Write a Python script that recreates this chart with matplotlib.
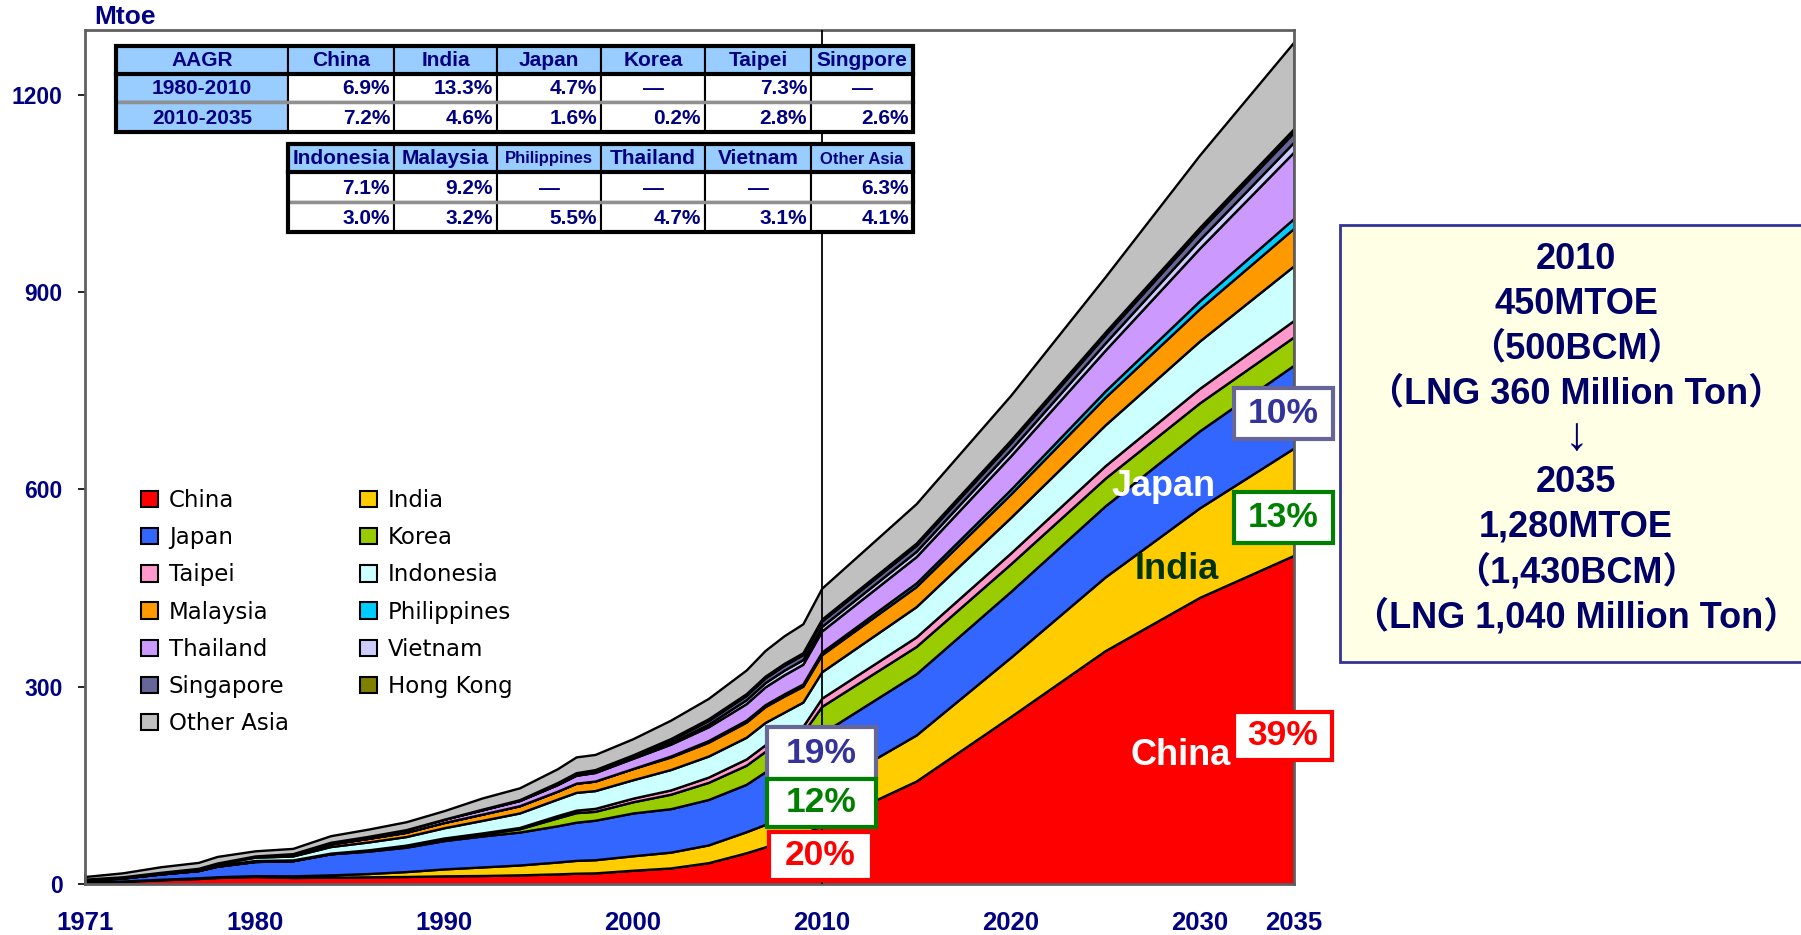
import matplotlib.pyplot as plt
import matplotlib.transforms as mtransforms
from matplotlib.patches import Rectangle

plt.rcParams['font.family'] = ['Liberation Sans', 'DejaVu Sans']

W, H = 1801, 935
NAVY = '#000080'

# Natural gas demand in Asia (Mtoe)
years = [1971, 1973, 1975, 1977, 1978, 1980, 1982, 1984, 1986, 1988, 1990, 1992, 1994,
         1996, 1997, 1998, 2000, 2002, 2004, 2006, 2007, 2008, 2009, 2010,
         2015, 2020, 2025, 2030, 2035]

china = [3, 4.5, 7, 9, 10.5, 12, 10.5, 11, 11.5, 12, 13, 13.5, 14.5,
         16, 17, 17.5, 21.5, 25, 33, 48, 57, 66, 76, 90,
         157, 255, 355, 436, 500]
india = [0.5, 0.6, 0.8, 1, 1.1, 1.3, 2.5, 3.5, 5, 7.5, 10.5, 13, 15,
         18, 19.5, 20, 22, 24, 27, 32, 34, 36, 45, 54,
         70, 90, 112, 136, 163]
japan = [3, 4.5, 8, 11, 16, 21.5, 23, 32, 34, 37, 43, 47, 50,
         55, 58, 60, 65, 66, 69, 72, 80, 82, 78, 85.5,
         93, 100, 108, 117, 126]
korea = [0, 0, 0, 0, 0, 0, 0, 0, 1, 2, 2.5, 3, 5,
         12, 14.5, 13.5, 17, 22, 26, 29, 31, 32, 31, 41,
         41.5, 42, 42, 42.5, 43]
taipei = [1, 1.2, 1.3, 1.4, 1.4, 1.5, 1.2, 1, 1, 1.2, 1.5, 1.6, 2,
          3.5, 3.8, 4.5, 5.5, 6.5, 8, 9.5, 10, 10.5, 10, 12.5,
          14.5, 16.5, 19, 22, 25]
indonesia = [0.5, 0.7, 1, 1.5, 2.5, 5, 6, 10, 12, 13, 15.5, 19, 22,
             25, 27, 27, 28, 31, 32, 33, 34, 35, 37, 40,
             46, 54, 62, 72, 83]
malaysia = [0, 0.1, 0.2, 0.5, 1, 1.9, 2.5, 4, 5.5, 6.5, 8, 9.5, 11,
            12, 14, 14.5, 17, 19, 21, 23, 24, 24.5, 24, 26,
            30.5, 35.5, 42, 49, 57]
philippines = [0, 0, 0, 0, 0, 0, 0, 0, 0, 0, 0, 0, 0,
               0, 0, 0, 0, 1.5, 2.5, 3, 3, 3.3, 3.5, 4,
               5.5, 7, 9.5, 12, 15]
thailand = [0, 0, 0, 0, 0, 0, 1, 2.5, 3, 4, 5, 6.5, 8,
            10, 12, 13, 15.5, 18, 21, 25, 27, 29, 30, 32,
            40, 51, 62, 80, 101]
vietnam = [0, 0, 0, 0, 0, 0, 0, 0, 0, 0, 0, 0, 0,
           0.3, 0.5, 0.7, 1.2, 2, 4, 6, 6.5, 7, 7, 7,
           8, 9.5, 11, 13, 15]
singapore = [0, 0, 0, 0, 0, 0, 0, 0, 0, 0, 0, 1, 1.2,
             1.3, 1.4, 1.5, 1.6, 4, 5.5, 6.5, 7, 7.5, 7.5, 8,
             9, 10.5, 12, 13.5, 15]
hong_kong = [0, 0, 0, 0, 0, 0, 0, 0, 0, 0, 0, 0, 0,
             1.5, 2, 2.2, 2.5, 2.5, 2.6, 2.7, 2.8, 2.8, 2.9, 3,
             3.5, 4, 4.5, 5, 5.5]
other_asia = [4, 6, 8.5, 9, 10, 7.8, 8, 10, 11, 12, 13, 17, 18,
              21, 24, 23, 24.5, 28, 31, 36, 39, 42, 44, 47,
              60, 68, 84, 110, 131.5]

series = [china, india, japan, korea, taipei, indonesia, malaysia, philippines,
          thailand, vietnam, singapore, hong_kong, other_asia]
names = ['China', 'India', 'Japan', 'Korea', 'Taipei', 'Indonesia', 'Malaysia',
         'Philippines', 'Thailand', 'Vietnam', 'Singapore', 'Hong Kong', 'Other Asia']
colors = ['#FF0000', '#FFCC00', '#3366FF', '#99CC00', '#FF99CC', '#CCFFFF', '#FF9900',
          '#00CCFF', '#CC99FF', '#CCCCFF', '#666699', '#808000', '#C0C0C0']

# growth-rate tables
tbl1_header = ['AAGR', 'China', 'India', 'Japan', 'Korea', 'Taipei', 'Singpore']
tbl1_rows = [['1980-2010', '6.9%', '13.3%', '4.7%', '—', '7.3%', '—'],
             ['2010-2035', '7.2%', '4.6%', '1.6%', '0.2%', '2.8%', '2.6%']]
tbl2_header = ['Indonesia', 'Malaysia', 'Philippines', 'Thailand', 'Vietnam', 'Other Asia']
tbl2_rows = [['7.1%', '9.2%', '—', '—', '—', '6.3%'],
             ['3.0%', '3.2%', '5.5%', '4.7%', '3.1%', '4.1%']]

summary_lines = ['2010', '450MTOE', '（500BCM）', '（LNG 360 Million Ton）', '↓',
                 '2035', '1,280MTOE', '（1,430BCM）', '（LNG 1,040 Million Ton）']

fig = plt.figure(figsize=(W / 100, H / 100), dpi=100)
ax = fig.add_axes([85 / W, 1 - 884.4 / H, (1294 - 85) / W, (884.4 - 30) / H])
pix = mtransforms.Affine2D().scale(1 / W, -1 / H).translate(0, 1) + fig.transFigure

ax.stackplot(years, *series, colors=colors, edgecolor='black', linewidth=1.7, zorder=2)
ax.axvline(2010, color='black', lw=1.3, zorder=3)

ax.set_xlim(1971, 2035)
ax.set_ylim(0, 1298)
ax.set_xticks([1971, 1980, 1990, 2000, 2010, 2020, 2030, 2035])
ax.set_xticks(range(1971, 2036), minor=True)
ax.set_yticks([0, 300, 600, 900, 1200])
ax.tick_params(axis='x', which='both', direction='in', length=7, width=1.2,
               pad=19, labelsize=18.5, labelcolor=NAVY)
ax.tick_params(axis='y', direction='out', length=5, width=1.2, pad=11,
               labelsize=16.5, labelcolor=NAVY)
for lbl in ax.get_xticklabels() + ax.get_yticklabels():
    lbl.set_fontweight('bold')
for sp in ax.spines.values():
    sp.set_color('#606060')
    sp.set_linewidth(2)

fig.text(94, 17, 'Mtoe', transform=pix, ha='left', va='center',
         fontsize=19, fontweight='bold', color=NAVY)

# legend: two columns filled row by row
order = [0, 2, 4, 6, 8, 10, 12, 1, 3, 5, 7, 9, 11]
handles = [Rectangle((0, 0), 1, 1, facecolor=colors[i], edgecolor='black', lw=1.5) for i in order]
ax.legend(handles, [names[i] for i in order], ncol=2, loc='upper left',
          bbox_to_anchor=(141 / W, 1 - 489 / H), bbox_transform=fig.transFigure,
          frameon=False, prop={'family': 'DejaVu Sans', 'size': 16.5},
          handlelength=0.72, handleheight=0.72, handletextpad=0.5,
          labelspacing=0.62, columnspacing=3.1, borderpad=0, borderaxespad=0)


def draw_table(xs, ys, header, rows, label_col):
    blue = '#99CCFF'
    for r in range(len(ys) - 1):
        cells = header if r == 0 else rows[r - 1]
        for c in range(len(xs) - 1):
            x0, x1, y0, y1 = xs[c], xs[c + 1], ys[r], ys[r + 1]
            fill = blue if (r == 0 or (label_col and c == 0)) else 'white'
            fig.add_artist(Rectangle((x0, y0), x1 - x0, y1 - y0, transform=pix,
                                     facecolor=fill, edgecolor='black', lw=1.5, zorder=6))
            txt = cells[c]
            size = 12 if txt in ('Philippines', 'Other Asia') else 15
            centred = r == 0 or (label_col and c == 0) or txt == '—'
            fig.text((x0 + x1) / 2 if centred else x1 - 4, (y0 + y1) / 2 + 1, txt,
                     transform=pix, ha='center' if centred else 'right', va='center',
                     fontsize=size, fontweight='bold', color=NAVY, zorder=7)
    fig.add_artist(plt.Line2D([xs[0], xs[-1]], [ys[1], ys[1]], transform=pix,
                              color='black', lw=3, zorder=6.5))
    fig.add_artist(plt.Line2D([xs[0], xs[-1]], [ys[2], ys[2]], transform=pix,
                              color='#909090', lw=2.5, zorder=6.5))
    fig.add_artist(Rectangle((xs[0], ys[0]), xs[-1] - xs[0], ys[-1] - ys[0], transform=pix,
                             facecolor='none', edgecolor='black', lw=3, zorder=6.6))


draw_table([116, 288, 394, 497, 601, 705, 811, 913], [46, 73.5, 102, 132],
           tbl1_header, tbl1_rows, True)
draw_table([288, 394, 497, 601, 705, 811, 913], [144, 172, 202, 232],
           tbl2_header, tbl2_rows, False)

# share boxes for 2010 and 2035
share_boxes = [
    ('19%', 2007.1, 160, 5.75, 79, '#666699', '#333399'),
    ('12%', 2007.1, 87.5, 5.75, 72.5, '#008000', '#008000'),
    ('20%', 2007.2, 6.7, 5.45, 73, '#FF0000', '#FF0000'),
    ('10%', 2031.8, 676, 5.25, 78, '#666699', '#333399'),
    ('13%', 2031.8, 518, 5.25, 78, '#008000', '#008000'),
    ('39%', 2031.8, 189, 5.2, 73, '#FF0000', '#FF0000'),
]
for txt, x0, y0, w, h, ec, tc in share_boxes:
    ax.add_patch(Rectangle((x0, y0), w, h, facecolor='white', edgecolor=ec, lw=3,
                           clip_on=False, zorder=5))
    ax.text(x0 + w / 2, y0 + h / 2, txt, ha='center', va='center', fontsize=25.5,
            fontweight='bold', color=tc, zorder=6, clip_on=False)

ax.text(2029.0, 196, 'China', ha='center', va='center', fontsize=26,
        fontweight='bold', color='white', zorder=6)
ax.text(2028.1, 605, 'Japan', ha='center', va='center', fontsize=26,
        fontweight='bold', color='white', zorder=6)
ax.text(2028.8, 479, 'India', ha='center', va='center', fontsize=26,
        fontweight='bold', color='#003300', zorder=6)

# summary panel on the right
fig.add_artist(Rectangle((1340, 225), 480, 437, transform=pix, facecolor='#FFFFE6',
                         edgecolor='#333399', lw=2, zorder=1))
for i, line in enumerate(summary_lines):
    fig.text(1576, 259.6 + i * 44.65, line, transform=pix, ha='center', va='center',
             fontsize=34 if line == '↓' else 26, fontweight='bold', color='#000066',
             family=['Liberation Sans', 'Noto Sans CJK JP'], zorder=2)

fig.savefig('out.png', dpi=100)
